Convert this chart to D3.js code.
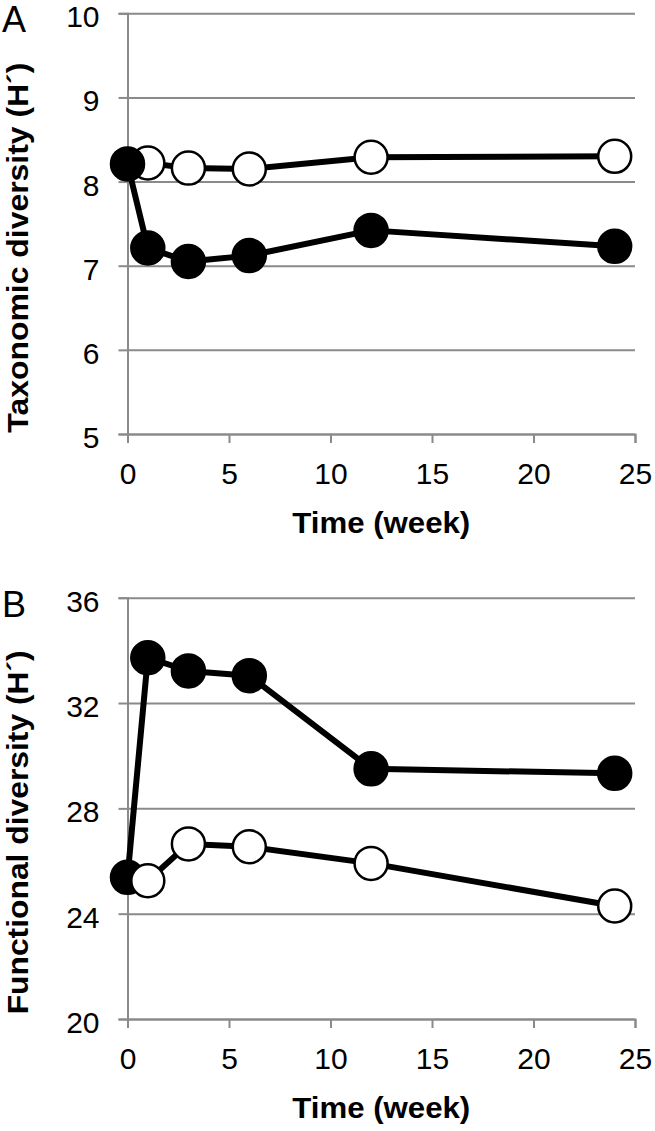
<!DOCTYPE html>
<html>
<head>
<meta charset="utf-8">
<script src="https://cdn.jsdelivr.net/npm/d3@7"></script>
<style>
  html, body { margin: 0; padding: 0; background: #fff; }
  svg { display: block; }
  text { font-family: "Liberation Sans", Arial, Helvetica, sans-serif; fill: #000; }
</style>
</head>
<body>
<svg id="chart" width="655" height="1131"></svg>
<script>
// ---- data ----
const weeksFilled = [0, 1, 3, 6, 12, 24];
const weeksOpen = [1, 3, 6, 12, 24];
const taxFilled = [8.21, 7.21, 7.05, 7.12, 7.42, 7.23];
const taxOpen = [8.22, 8.16, 8.15, 8.29, 8.30];
const funFilled = [25.38, 33.72, 33.22, 33.04, 29.50, 29.33];
const funOpen = [25.25, 26.65, 26.54, 25.91, 24.29];
const xTicks = [0, 5, 10, 15, 20, 25];
const taxTicks = [5, 6, 7, 8, 9, 10];
const funTicks = [20, 24, 28, 32, 36];
const panelLabels = ["A", "B"];
const yTitles = ["Taxonomic diversity (H\u00B4)", "Functional diversity (H\u00B4)"];
const xTitle = "Time (week)";

const svg = d3.select("#chart");
const gridColor = "#8a8a8a";

function panel(opts) {
  const { top, bottom, domain, ticks, filled, open, label, yTitle, yTitleLen, openOnTop } = opts;
  const x = d3.scaleLinear().domain([0, 25]).range([127.5, 635]);
  const y = d3.scaleLinear().domain(domain).range([bottom, top]);
  const g = svg.append("g");

  // gridlines (horizontal)
  g.append("g")
    .attr("transform", `translate(${x(0)},0)`)
    .call(d3.axisLeft(y).tickValues(ticks).tickSize(-(x(25) - x(0))).tickFormat(""))
    .call(s => s.select(".domain").remove())
    .call(s => s.selectAll("line").attr("stroke", gridColor).attr("stroke-width", 2));

  // y tick stubs + labels
  g.append("g")
    .attr("transform", `translate(${x(0)},0)`)
    .call(d3.axisLeft(y).tickValues(ticks).tickSize(9).tickPadding(19).tickFormat(d3.format("d")))
    .call(s => s.select(".domain").attr("stroke", gridColor).attr("stroke-width", 2))
    .call(s => s.selectAll("line").attr("stroke", gridColor).attr("stroke-width", 2))
    .call(s => s.selectAll("text")
      .attr("font-size", 30)
      .attr("font-family", "'Liberation Sans', Arial, sans-serif")
      .attr("fill", "#000")
      .attr("dy", "0.45em"));

  // x axis
  g.append("g")
    .attr("transform", `translate(0,${bottom})`)
    .call(d3.axisBottom(x).tickValues(xTicks).tickSize(9).tickPadding(20).tickFormat(d3.format("d")))
    .call(s => s.select(".domain").attr("stroke", gridColor).attr("stroke-width", 2))
    .call(s => s.selectAll("line").attr("stroke", gridColor).attr("stroke-width", 2))
    .call(s => s.selectAll("text")
      .attr("font-size", 30)
      .attr("font-family", "'Liberation Sans', Arial, sans-serif")
      .attr("fill", "#000"));

  // x title
  g.append("text")
    .attr("x", (x(0) + x(25)) / 2)
    .attr("y", bottom + 99)
    .attr("text-anchor", "middle")
    .attr("font-size", 30)
    .attr("font-weight", "bold")
    .attr("textLength", 178)
    .attr("lengthAdjust", "spacingAndGlyphs")
    .text(xTitle);

  // y title
  g.append("text")
    .attr("transform", `translate(28,${(top + bottom) / 2 + 24}) rotate(-90)`)
    .attr("text-anchor", "middle")
    .attr("font-size", 30)
    .attr("font-weight", "bold")
    .attr("textLength", yTitleLen)
    .attr("lengthAdjust", "spacingAndGlyphs")
    .text(yTitle);

  // panel label
  g.append("text")
    .attr("x", 2)
    .attr("y", top + 19)
    .attr("font-size", 36)
    .text(label);

  const line = d3.line().x(d => x(d[0])).y(d => y(d[1]));
  const fData = weeksFilled.map((w, i) => [w, filled[i]]);
  const oData = weeksOpen.map((w, i) => [w, open[i]]);

  function drawSeries(data, fill) {
    const s = g.append("g");
    s.append("path").datum(data)
      .attr("d", line)
      .attr("fill", "none")
      .attr("stroke", "#000")
      .attr("stroke-width", 6)
      .attr("stroke-linejoin", "round");
    s.selectAll("circle").data(data).join("circle")
      .attr("cx", d => x(d[0]))
      .attr("cy", d => y(d[1]))
      .attr("r", 16.5)
      .attr("fill", fill)
      .attr("stroke", "#000")
      .attr("stroke-width", 2.5);
  }
  if (openOnTop) {
    drawSeries(fData, "#000");
    drawSeries(oData, "#fff");
  } else {
    drawSeries(oData, "#fff");
    drawSeries(fData, "#000");
  }
}

panel({ top: 13.3, bottom: 434, domain: [5, 10], ticks: taxTicks,
  filled: taxFilled, open: taxOpen, label: panelLabels[0], yTitle: yTitles[0], yTitleLen: 370, openOnTop: false });
panel({ top: 597.7, bottom: 1019, domain: [20, 36], ticks: funTicks,
  filled: funFilled, open: funOpen, label: panelLabels[1], yTitle: yTitles[1], yTitleLen: 364, openOnTop: true });
</script>
</body>
</html>
